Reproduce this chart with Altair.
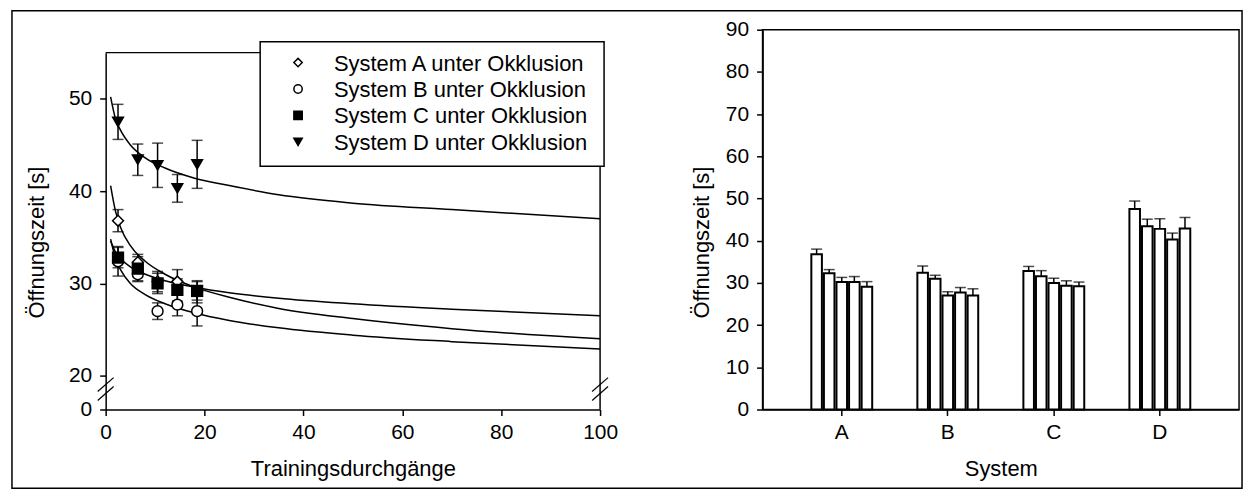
import altair as alt
import pandas as pd

FONT = "Liberation Sans"

# ---------------- data ----------------
trials = [2.5, 6.5, 10.5, 14.5, 18.5]
blocks = ["1", "2", "3", "4", "5"]
systems = ["A", "B", "C", "D"]
series_labels = [
    "System A unter Okklusion",
    "System B unter Okklusion",
    "System C unter Okklusion",
    "System D unter Okklusion",
]
series_shapes = ["diamond", "circle", "square", "triangle-down"]
series_fills = ["white", "white", "black", "black"]

mean_A = [36.8, 32.3, 30.2, 30.2, 29.1]
mean_B = [32.4, 31.0, 27.0, 27.7, 27.0]
mean_C = [32.8, 31.6, 30.0, 29.3, 29.2]
mean_D = [47.5, 43.4, 42.8, 40.3, 42.9]

se_A = [1.2, 0.85, 1.1, 1.3, 1.2]
se_B = [1.6, 0.8, 0.9, 1.2, 1.6]
se_C = [1.1, 1.3, 1.1, 1.2, 1.0]
se_D = [1.9, 1.7, 2.4, 1.5, 2.6]

# fitted curves
curve_t = [1, 2, 3, 5, 8, 12, 18, 25, 35, 50, 70, 100]
curve_A = [40.6, 37.8, 36.1, 34.1, 32.4, 31.0, 29.6, 28.5, 27.3, 26.2, 25.1, 24.0]
curve_B = [34.8, 32.7, 31.5, 30.0, 28.8, 27.8, 26.8, 26.0, 25.2, 24.4, 23.7, 22.9]
curve_C = [34.6, 33.4, 32.7, 31.8, 31.0, 30.3, 29.6, 29.0, 28.4, 27.8, 27.2, 26.5]
curve_D = [50.2, 47.8, 46.6, 45.0, 43.6, 42.5, 41.4, 40.6, 39.6, 38.7, 38.0, 37.0]

means = [mean_A, mean_B, mean_C, mean_D]
ses = [se_A, se_B, se_C, se_D]
curves = [curve_A, curve_B, curve_C, curve_D]

rows = []
for s, lab, m, e in zip(systems, series_labels, means, ses):
    for t, b, mv, ev in zip(trials, blocks, m, e):
        rows.append({"system": s, "series": lab, "t": t, "block": b,
                     "mean": mv, "lo": mv - ev, "hi": mv + ev})
df_pts = pd.DataFrame(rows)

crow = []
for lab, c in zip(series_labels, curves):
    for t, v in zip(curve_t, c):
        crow.append({"series": lab, "t": t, "value": v})
df_curve = pd.DataFrame(crow)

one = pd.DataFrame({"k": [0]})

# ---------------- left chart ----------------
LW, LH = 496, 381
x_scale_l = alt.Scale(domain=[0, 100], nice=False, zero=False)
y_scale_l = alt.Scale(domain=[0, 20, 55], range=[381, 347.2, 23], nice=False, zero=False)
x_axis_l = alt.Axis(values=[0, 20, 40, 60, 80, 100], title="Trainingsdurchgänge",
                    labelFlush=False, labelPadding=6, titlePadding=16)
y_axis_l = alt.Axis(values=[0, 20, 30, 40, 50], title="Öffnungszeit [s]",
                    labelFlush=False, labelOverlap=False, labelPadding=8, titlePadding=20,
                    titleY=213)


def lx(f):
    return alt.X(f"{f}:Q", scale=x_scale_l, axis=x_axis_l)


def ly(f):
    return alt.Y(f"{f}:Q", scale=y_scale_l, axis=y_axis_l)


curve_layer = alt.Chart(df_curve).mark_line(color="black", strokeWidth=1.5, interpolate="monotone").encode(
    x=lx("t"), y=ly("value"), detail="series:N")

err_rule = alt.Chart(df_pts).mark_rule(color="black", strokeWidth=1.5).encode(
    x=lx("t"), y=ly("lo"), y2=alt.Y2("hi"))
err_lo = alt.Chart(df_pts).mark_tick(color="black", orient="horizontal", size=11, thickness=1.5).encode(
    x=lx("t"), y=ly("lo"))
err_hi = alt.Chart(df_pts).mark_tick(color="black", orient="horizontal", size=11, thickness=1.5).encode(
    x=lx("t"), y=ly("hi"))

points = alt.Chart(df_pts).mark_point(filled=True, stroke="black", strokeWidth=1.5, opacity=1).encode(
    x=lx("t"), y=ly("mean"),
    shape=alt.Shape("series:N", scale=alt.Scale(domain=series_labels, range=series_shapes), legend=None),
    fill=alt.Fill("series:N", scale=alt.Scale(domain=series_labels, range=series_fills), legend=None),
    size=alt.Size("series:N", scale=alt.Scale(domain=series_labels,
                  range=[120, 115, 95, 180]), legend=None),
)


def vrule(x1, y1, x2, y2, w=1.5):
    return alt.Chart(one).mark_rule(color="black", strokeWidth=w).encode(
        x=alt.value(x1), y=alt.value(y1), x2=alt.value(x2), y2=alt.value(y2))


frame_top = vrule(0, 23, LW, 23)
frame_right = vrule(LW, 23, LW, LH)
brk = [vrule(-8, 363, 8, 349, 1.2), vrule(-8, 372, 8, 358, 1.2),
       vrule(LW - 8, 363, LW + 8, 349, 1.2), vrule(LW - 8, 372, LW + 8, 358, 1.2)]
border = alt.Chart(one).mark_rect(fill="transparent", stroke="black", strokeWidth=1.5).encode(
    x=alt.value(-94), x2=alt.value(1140), y=alt.value(-19), y2=alt.value(460))

# legend box (drawn by hand)
legend_box = alt.Chart(one).mark_rect(fill="white", stroke="black", strokeWidth=1.5).encode(
    x=alt.value(155), x2=alt.value(500), y=alt.value(12), y2=alt.value(137))
legend_rows_y = [33, 59.5, 86, 112.5]
legend_layers = [legend_box]
for lab, shp, fil, yy in zip(series_labels, series_shapes, series_fills, legend_rows_y):
    legend_layers.append(
        alt.Chart(one).mark_point(shape=shp, filled=True, fill=fil, stroke="black",
                                  strokeWidth=1.5, size=70, opacity=1).encode(
            x=alt.value(193), y=alt.value(yy)))
    legend_layers.append(
        alt.Chart(one).mark_text(align="left", baseline="middle", font=FONT, fontSize=22,
                                 color="black").encode(
            x=alt.value(229), y=alt.value(yy + 1), text=alt.value(lab)))

left = alt.layer(curve_layer, err_rule, err_lo, err_hi, frame_top, frame_right, *brk, border, points,
                 *legend_layers).properties(width=LW, height=LH)

# ---------------- right chart ----------------
RW, RH = 478, 381
x_r = alt.X("system:N", scale=alt.Scale(domain=systems, paddingInner=0.426, paddingOuter=0.46),
            axis=alt.Axis(title="System", labelAngle=0, labelPadding=6, titlePadding=16))
xo_r = alt.XOffset("block:N", scale=alt.Scale(domain=blocks, paddingInner=0.16, paddingOuter=0))
y_scale_r = alt.Scale(domain=[0, 90], nice=False, zero=True)
y_axis_r = alt.Axis(values=list(range(0, 91, 10)), title="Öffnungszeit [s]",
                    labelFlush=False, labelPadding=8, titlePadding=12, titleY=213)

bars = alt.Chart(df_pts).mark_bar(fill="white", stroke="black", strokeWidth=2).encode(
    x=x_r, xOffset=xo_r, y=alt.Y("mean:Q", scale=y_scale_r, axis=y_axis_r))
bar_err = alt.Chart(df_pts).mark_rule(color="black", strokeWidth=1.5).encode(
    x=x_r, xOffset=xo_r, y=alt.Y("mean:Q", scale=y_scale_r, axis=y_axis_r), y2=alt.Y2("hi"))
bar_cap = alt.Chart(df_pts).mark_tick(color="black", orient="horizontal", size=11, thickness=1.5).encode(
    x=x_r, xOffset=xo_r, y=alt.Y("hi:Q", scale=y_scale_r, axis=y_axis_r))

right = alt.layer(bars, bar_err, bar_cap).properties(
    width=RW, height=RH, view=alt.ViewBackground(stroke="black", strokeWidth=1.5))

chart = alt.hconcat(left, right, spacing=163, bounds="flush").configure(
    font=FONT, background="white", padding={"left": 10, "top": 8, "right": 9, "bottom": 7}
).configure_view(stroke="transparent").configure_axis(
    grid=False, domainColor="black", domainWidth=1.5, tickColor="black", tickWidth=1.5, tickSize=6,
    labelFont=FONT, labelFontSize=21, labelColor="black",
    titleFont=FONT, titleFontSize=22, titleFontWeight="normal", titleColor="black",
)

chart.save("out.html", embed_options={"renderer": "svg", "actions": False})
